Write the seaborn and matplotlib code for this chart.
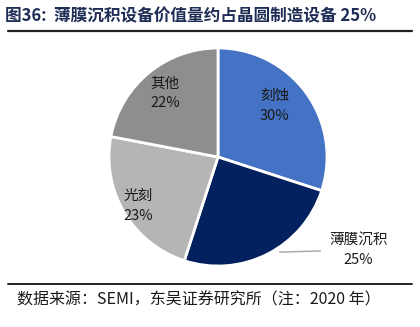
import numpy as np
import matplotlib
matplotlib.use("Agg")
import matplotlib.pyplot as plt
from matplotlib.lines import Line2D
import seaborn as sns

# Equipment categories and their share of wafer-fab equipment value (2020)
categories = ["刻蚀", "薄膜沉积", "光刻", "其他"]
shares = [30, 25, 23, 22]
title_text = "图36:  薄膜沉积设备价值量约占晶圆制造设备 25%"
source_text = "数据来源：SEMI，东吴证券研究所（注：2020 年）"

sns.set_theme(style="white")
plt.rcParams["font.family"] = ["Noto Sans CJK SC", "DejaVu Sans"]

colors = ["#4472C4", "#03205F", "#B5B5B5", "#8E8E8E"]

W, H = 420, 327
fig = plt.figure(figsize=(W / 100, H / 100), dpi=100)
fig.patch.set_facecolor("white")

# Square axes holding the unit-radius pie
cx, cy, r = 218, 157, 109
ax = fig.add_axes([(cx - r) / W, (H - cy - r) / H, 2 * r / W, 2 * r / H])
wedges, _ = ax.pie(
    shares, colors=colors, startangle=90, counterclock=False,
    wedgeprops=dict(edgecolor="white", linewidth=2), radius=1.0,
)
ax.set_xlim(-1, 1)
ax.set_ylim(-1, 1)
ax.set_aspect("equal")
ax.axis("off")

# Labels: inside the wedge, except 薄膜沉积 which sits outside with a leader line
label_radius = {"刻蚀": 0.70, "光刻": 0.86, "其他": 0.76}
angle_shift = {"刻蚀": 6, "光刻": 1, "其他": 0}
for w, name, val in zip(wedges, categories, shares):
    mid = (w.theta1 + w.theta2) / 2
    txt = f"{name}\n{val}%"
    if name == "薄膜沉积":
        a = np.deg2rad(mid + 6)
        ax.annotate(
            txt, xy=(1.04 * np.cos(a), 1.04 * np.sin(a)), xytext=(1.29, -0.86),
            ha="center", va="center", fontsize=10.5, color="#1a1a1a",
            linespacing=1.5, annotation_clip=False,
            arrowprops=dict(arrowstyle="-", color="#A6A6A6", lw=1,
                            shrinkA=4, shrinkB=0, relpos=(0.0, 0.5)),
        )
    else:
        m = np.deg2rad(mid + angle_shift[name])
        rr = label_radius[name]
        ax.text(rr * np.cos(m), rr * np.sin(m), txt, ha="center", va="center",
                fontsize=10.5, color="#1a1a1a", linespacing=1.5)

# Title and source rules
fig.text(5 / W, 1 - 16 / H, title_text, ha="left", va="center",
         fontsize=12, fontweight="bold", color="#1F2D55")
fig.add_artist(Line2D([8 / W, 412 / W], [1 - 31 / H, 1 - 31 / H],
                      color="#222222", lw=1.6, transform=fig.transFigure))
fig.add_artist(Line2D([8 / W, 412 / W], [1 - 284 / H, 1 - 284 / H],
                      color="#222222", lw=1.4, transform=fig.transFigure))
fig.text(17 / W, 1 - 300 / H, source_text, ha="left", va="center",
         fontsize=11.5, color="#1a1a1a")

fig.savefig("out.png", dpi=100, facecolor="white")
